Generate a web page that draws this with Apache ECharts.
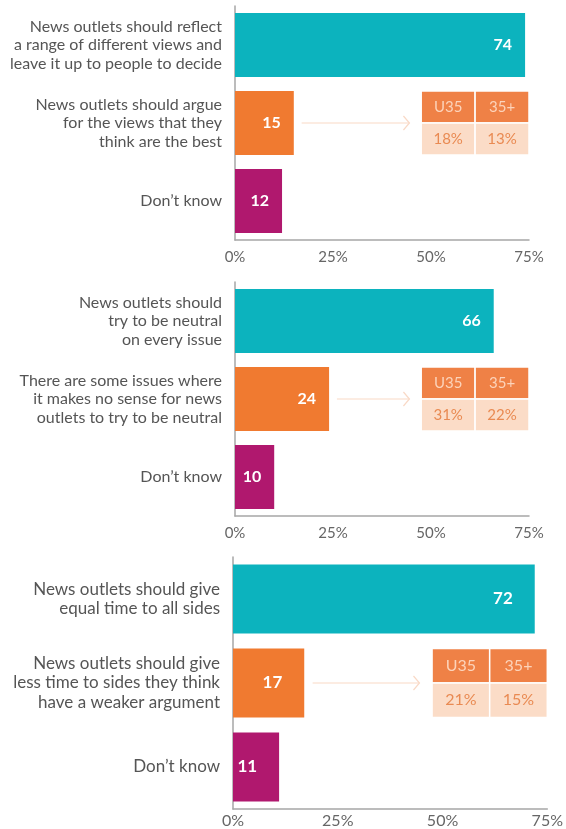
<!DOCTYPE html>
<html>
<head>
<meta charset="utf-8">
<script src="https://cdn.jsdelivr.net/npm/echarts@6/dist/echarts.min.js"></script>
<style>
  html, body { margin: 0; padding: 0; background: #fff; }
  #main { width: 566px; height: 829px; }
</style>
</head>
<body>
<div id="main"></div>
<script>
// categories per panel
var cats1 = ['News outlets should reflect\na range of different views and\nleave it up to people to decide',
             'News outlets should argue\nfor the views that they\nthink are the best',
             'Don\u2019t know'];
var cats2 = ['News outlets should\ntry to be neutral\non every issue',
             'There are some issues where\nit makes no sense for news\noutlets to try to be neutral',
             'Don\u2019t know'];
var cats3 = ['News outlets should give\nequal time to all sides',
             'News outlets should give\nless time to sides they think\nhave a weaker argument',
             'Don\u2019t know'];

// overall values (%)
var vals1 = [74, 15, 12];
var vals2 = [66, 24, 10];
var vals3 = [72, 17, 11];

// age split for the second answer in each panel: U35, 35+
var ageHeads = ['U35', '35+'];
var age1 = [18, 13];
var age2 = [31, 22];
var age3 = [21, 15];

var tickVals = [0, 25, 50, 75];

var barColors = ['#0cb3be', '#f07a30', '#b0186e'];
var GAP = 0.18;

var grids = [
  { left: 235, right: 37, top: 6, height: 234 },
  { left: 235, right: 37, top: 282, height: 234 },
  { left: 233, right: 17, top: 557, height: 252 }
];
var panels = [
  { cats: cats1, vals: vals1, age: age1, fs: 16, lh: 18.5, dist: 13 },
  { cats: cats2, vals: vals2, age: age2, fs: 16, lh: 18.5, dist: 13 },
  { cats: cats3, vals: vals3, age: age3, fs: 17, lh: 19.5, dist: 22 }
];

var myChart = echarts.init(document.getElementById('main'));

var xAxes = [], yAxes = [], series = [];
panels.forEach(function (p, i) {
  xAxes.push({
    gridIndex: i, type: 'value', min: 0, max: 75, interval: 25,
    axisLine: { show: true, lineStyle: { color: '#a6a6a6', width: 1.5 } },
    axisTick: { show: false },
    splitLine: { show: false },
    axisLabel: {
      color: '#666', fontSize: i === 2 ? 16 : 15, fontFamily: 'Lato', margin: i === 2 ? 4 : 10,
      formatter: function (v) { return tickVals.indexOf(v) >= 0 ? v + '%' : ''; }
    }
  });
  yAxes.push({
    gridIndex: i, type: 'category', inverse: true, data: p.cats,
    axisLine: { show: true, lineStyle: { color: '#a6a6a6', width: 1.5 } },
    axisTick: { show: false },
    axisLabel: { color: '#555', fontSize: p.fs, lineHeight: p.lh, fontFamily: 'Lato', margin: 13, align: 'right' }
  });

  // main bars
  series.push({
    type: 'bar', xAxisIndex: i, yAxisIndex: i,
    barCategoryGap: (GAP * 100) + '%',
    data: p.vals.map(function (v, k) {
      return { value: v, itemStyle: { color: barColors[k] } };
    }),
    label: {
      show: true, position: 'insideRight', distance: p.dist,
      color: '#fff', fontWeight: 'bold', fontSize: p.fs, fontFamily: 'Lato'
    },
    silent: true
  });

  // arrow from the orange bar to the age table
  series.push({
    type: 'custom', xAxisIndex: i, yAxisIndex: i, silent: true,
    data: [[p.vals[1] + 2, 44.5, 1]],
    renderItem: function (params, api) {
      var a = api.coord([api.value(0), api.value(2)]);
      var b = api.coord([api.value(1), api.value(2)]);
      var y = a[1];
      return {
        type: 'group',
        children: [
          { type: 'line', shape: { x1: a[0], y1: y, x2: b[0], y2: y },
            style: { stroke: '#f9d9c6', lineWidth: 1.2 } },
          { type: 'polyline', shape: { points: [[b[0] - 6, y - 7], [b[0], y], [b[0] - 6, y + 7]] },
            style: { stroke: '#f9d9c6', lineWidth: 1.2, fill: null } }
        ]
      };
    }
  });

  // age table: 2 columns x 2 rows over the orange bar's band
  var cells = [];
  var txt = [];
  [[47.5, 61.25], [61.25, 75]].forEach(function (c, col) {
    cells.push([c[0], c[1], 0]); txt.push(ageHeads[col]);
    cells.push([c[0], c[1], 1]); txt.push(p.age[col] + '%');
  });
  series.push({
    type: 'custom', xAxisIndex: i, yAxisIndex: i, silent: true,
    data: cells,
    renderItem: function (params, api) {
      var a = api.coord([api.value(0), 1]);
      var b = api.coord([api.value(1), 1]);
      var band = api.size([0, 1])[1];
      var h = band * (1 - GAP);
      var row = api.value(2);
      var top = a[1] - h / 2 + row * h / 2;
      return {
        type: 'group',
        children: [
          { type: 'rect', shape: { x: a[0], y: top, width: b[0] - a[0], height: h / 2 },
            style: { fill: row === 0 ? '#ef8146' : '#fbdcc7', stroke: '#fff', lineWidth: 1.5 } },
          { type: 'text', style: {
              text: txt[params.dataIndex], x: (a[0] + b[0]) / 2, y: top + h / 4,
              align: 'center', verticalAlign: 'middle',
              fill: row === 0 ? '#fcd3ba' : '#e98a52',
              font: (p.fs - 1) + 'px Lato'
          } }
        ]
      };
    }
  });
});

var option = {
  backgroundColor: '#fff',
  animation: false,
  grid: grids,
  xAxis: xAxes,
  yAxis: yAxes,
  series: series
};
myChart.setOption(option);
</script>
</body>
</html>
